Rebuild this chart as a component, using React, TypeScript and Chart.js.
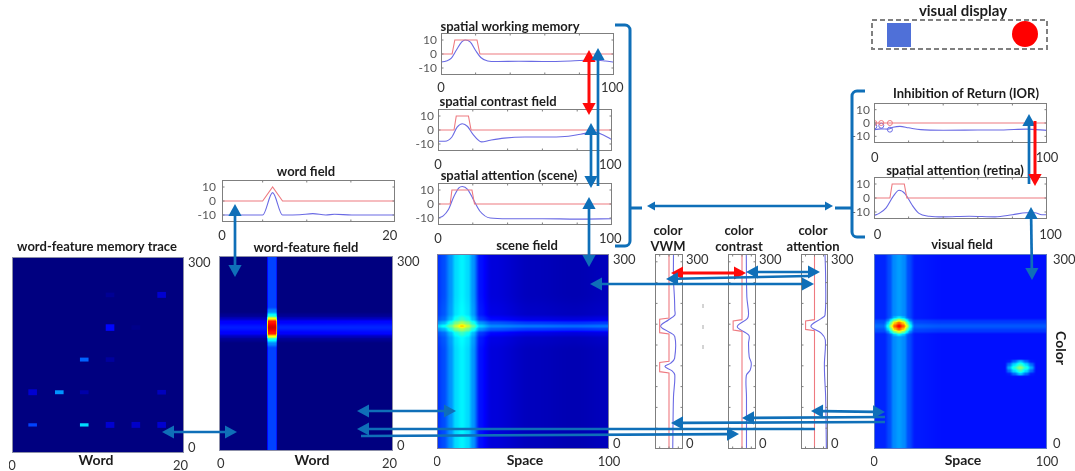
import React, { useEffect, useRef } from "react";
import { Chart, registerables } from "chart.js";

Chart.register(...registerables);

const FONT = "Lato, 'Open Sans', sans-serif";
const BLUE = "#0f6fb8";
const RED = "#ff0a0a";
const LINE_RED = "#ee7a80";
const LINE_BLUE = "#6a6ae4";
const FRAME = "#7f7f7f";

/* ---------- line panels: values ---------- */
const swmRedX = [0, 6.4, 8, 20.8, 22.5, 100];
const swmRedY = [0, 0, 10, 10, 0, 0];
const swmBlueX = [0, 3, 6, 9, 12, 14, 17, 20, 23, 27, 32, 45, 60, 75, 88, 95, 100];
const swmBlueY = [-5.8, -5, -3, 3, 8.6, 10, 8.5, 2.5, -2.5, -5, -5.4, -5.2, -5.4, -5, -4.3, -5, -5.8];

const contrastRedX = [0, 9.2, 10.5, 17.5, 19, 100];
const contrastRedY = [0, 0, 10, 10, 0, 0];
const contrastBlueX = [0, 4, 8, 11, 14, 17, 20, 25, 30, 38, 50, 65, 75, 82, 90, 95, 100];
const contrastBlueY = [-8, -8, -5, 2, 4.5, 2.5, -3, -8.5, -7.3, -5.8, -5, -5, -4.5, -3, -1.5, -3.5, -7];

const attnRedX = [0, 7, 8, 19.5, 21, 100];
const attnRedY = [0, 0, 10, 10, 0, 0];
const attnBlueX = [0, 3, 6, 9, 12, 14, 17, 20, 24, 30, 40, 60, 80, 100];
const attnBlueY = [-10, -8.5, -4, 5, 11.5, 12.5, 10.5, 4, -5, -10, -10.5, -10.5, -10.8, -10.5];

const wordRedX = [0, 4.7, 5.85, 7, 20];
const wordRedY = [0, 0, 10, 0, 0];
const wordBlueX = [0, 4.7, 5.85, 7, 9, 10.5, 12, 13, 15, 17, 20];
const wordBlueY = [-10, -10, 6, -10, -9.8, -9, -10, -9.5, -10, -10, -10];

const iorRedX = [0, 100];
const iorRedY = [0, 0];
const iorBlueX = [0, 4, 8, 11, 15, 20, 27, 40, 60, 75, 88, 100];
const iorBlueY = [-5, -4.4, -4.6, -3.2, -2.5, -3.6, -5, -5.4, -5.3, -5.2, -4.6, -5.5];
const iorMarkX = [0.2, 4.2, 9.2];
const iorMarkRedY = [0, 0, 0];
const iorMarkBlueY = [-2.5, -2, -5];

const retinaRedX = [0, 9.2, 10.5, 17.5, 19, 100];
const retinaRedY = [0, 0, 10, 10, 0, 0];
const retinaBlueX = [0, 3, 7, 11, 14.5, 18, 22, 26, 32, 40, 55, 70, 80, 88, 93, 97, 100];
const retinaBlueY = [-12.5, -11, -7, 1, 5.5, 3, -5, -11, -13, -13.5, -13, -13.5, -12, -10.5, -10.5, -12, -12];

/* ---------- colour panels: activation (x) along the colour axis (y) ---------- */
const vwmRedV = [0, 0, 10, 10, 0, 0, 10, 10, 0, 0];
const vwmRedC = [0, 117, 119, 133, 135, 177, 179, 199.5, 201.5, 300];
const vwmBlueV = [-4, -4.8, -6.2, -3, 4.4, -1.8, -6, -6.2, 0.7, 9, 0.7, -6.2, -6.2, -5.8, -4.8, -4.8];
const vwmBlueC = [0, 80, 114, 120.5, 127, 132, 139.5, 173, 180.5, 189, 198.5, 206, 214, 234, 260, 300];

const colContrastRedV = [0, 0, 9.5, 9.5, 0, 0];
const colContrastRedC = [0, 181, 183, 197, 199, 300];
const colContrastBlueV = [-4.8, -4.8, -4.6, -8.8, -9.9, -7.7, -7, -7.3, 5.1, -5.9, -7, -5.2, -4.6];
const colContrastBlueC = [0, 80, 113, 121.5, 132, 142, 162.5, 175, 188, 201, 209, 234, 300];

const colAttnRedV = [0, 0, 9.9, 9.9, 0, 0];
const colAttnRedC = [0, 182, 184, 197, 199, 300];
const colAttnBlueV = [-13.2, -12.4, -11.3, -11, -12, -7.7, 4, -7.7, -11.7, -12.4, -11.7];
const colAttnBlueC = [0, 80, 111, 132, 168, 178, 189, 201, 206, 260, 300];

/* ---------- heat maps: tables of jet levels, rows run from colour 0 upward ---------- */
const memoryCols = [2.4, 5.5, 8.4, 11.4, 14.4, 17.4];
const memoryRowsAt = [43, 93, 143, 192, 242];
const memoryRowHeights = [
  [5, 0, 5, 9, 9, 9],
  [9, 6, 6, 0, 0, 7],
  [0, 0, 6, 7, 0, 0],
  [0, 0, 0, 10, 7, 0],
  [0, 0, 0, 7, 0, 9],
];
const memoryLevels = [
  [0.19, 0, 0.34, 0.08, 0.07, 0.08],
  [0.08, 0.27, 0.04, 0, 0, 0.06],
  [0, 0, 0.22, 0.03, 0, 0],
  [0, 0, 0, 0.13, 0.01, 0],
  [0, 0, 0, 0.02, 0, 0.08],
];

const wordFieldCols = [0, 5.45, 5.65, 6.55, 6.75, 20];
const wordFieldRows = [0, 100, 158, 165, 172, 176, 181, 190, 199, 204, 208, 215, 222, 300];
const wordFieldLevels = [
  [0, 0, 0.19, 0.19, 0, 0],
  [0, 0, 0.19, 0.19, 0, 0],
  [0, 0, 0.19, 0.19, 0, 0],
  [0, 0, 0.26, 0.26, 0, 0],
  [0.02, 0.02, 0.4, 0.4, 0.02, 0.02],
  [0.06, 0.06, 0.62, 0.62, 0.06, 0.06],
  [0.12, 0.12, 0.85, 0.85, 0.12, 0.13],
  [0.15, 0.15, 0.92, 0.92, 0.16, 0.16],
  [0.12, 0.12, 0.85, 0.85, 0.12, 0.13],
  [0.06, 0.06, 0.62, 0.62, 0.06, 0.06],
  [0.02, 0.02, 0.4, 0.4, 0.02, 0.02],
  [0, 0, 0.26, 0.26, 0, 0],
  [0, 0, 0.19, 0.19, 0, 0],
  [0, 0, 0.19, 0.19, 0, 0],
];

const sceneCols = [0, 4, 8, 11, 14.5, 18, 21, 25, 32, 55, 80, 100];
const sceneRows = [0, 100, 150, 170, 178, 184, 189, 194, 200, 208, 240, 300];
const sceneLevels = [
  [0.17, 0.2, 0.27, 0.34, 0.365, 0.34, 0.27, 0.14, 0.09, 0.06, 0.05, 0.06],
  [0.17, 0.2, 0.27, 0.34, 0.365, 0.34, 0.27, 0.14, 0.09, 0.06, 0.05, 0.06],
  [0.17, 0.2, 0.27, 0.34, 0.365, 0.34, 0.27, 0.14, 0.09, 0.06, 0.05, 0.06],
  [0.18, 0.21, 0.28, 0.35, 0.375, 0.35, 0.28, 0.15, 0.1, 0.07, 0.06, 0.07],
  [0.2, 0.23, 0.31, 0.39, 0.43, 0.39, 0.31, 0.18, 0.13, 0.1, 0.09, 0.1],
  [0.26, 0.3, 0.4, 0.49, 0.54, 0.49, 0.4, 0.27, 0.21, 0.18, 0.17, 0.18],
  [0.32, 0.38, 0.47, 0.57, 0.67, 0.57, 0.47, 0.33, 0.26, 0.24, 0.23, 0.24],
  [0.26, 0.3, 0.4, 0.49, 0.54, 0.49, 0.4, 0.27, 0.21, 0.18, 0.17, 0.18],
  [0.2, 0.23, 0.31, 0.39, 0.43, 0.39, 0.31, 0.18, 0.13, 0.1, 0.09, 0.1],
  [0.18, 0.21, 0.28, 0.35, 0.375, 0.35, 0.28, 0.15, 0.1, 0.07, 0.06, 0.07],
  [0.17, 0.2, 0.27, 0.34, 0.365, 0.34, 0.27, 0.14, 0.09, 0.06, 0.05, 0.06],
  [0.17, 0.2, 0.27, 0.34, 0.365, 0.34, 0.27, 0.14, 0.09, 0.06, 0.05, 0.06],
];

const visualCols = [0, 6, 9, 11.5, 14.5, 17.5, 20, 24, 40, 100];
const visualRows = [0, 100, 176, 182, 189, 196, 202, 300];
const visualLevels = [
  [0.16, 0.16, 0.2, 0.26, 0.28, 0.26, 0.2, 0.15, 0.14, 0.14],
  [0.16, 0.16, 0.2, 0.26, 0.28, 0.26, 0.2, 0.15, 0.14, 0.14],
  [0.16, 0.16, 0.2, 0.26, 0.28, 0.26, 0.2, 0.15, 0.14, 0.14],
  [0.2, 0.2, 0.24, 0.3, 0.32, 0.3, 0.24, 0.19, 0.18, 0.18],
  [0.23, 0.23, 0.27, 0.33, 0.35, 0.33, 0.27, 0.22, 0.21, 0.21],
  [0.2, 0.2, 0.24, 0.3, 0.32, 0.3, 0.24, 0.19, 0.18, 0.18],
  [0.16, 0.16, 0.2, 0.26, 0.28, 0.26, 0.2, 0.15, 0.14, 0.14],
  [0.16, 0.16, 0.2, 0.26, 0.28, 0.26, 0.2, 0.15, 0.14, 0.14],
];

const redBlobCols = [6, 8, 10, 12, 14.5, 17, 19, 21, 23];
const redBlobRows = [172, 175, 180, 184, 189, 194, 198, 203, 206];
const redBlobLevels = [
  [0, 0, 0, 0, 0, 0, 0, 0, 0],
  [0, 0, 0.01, 0.04, 0.07, 0.04, 0.01, 0, 0],
  [0, 0.03, 0.12, 0.2, 0.27, 0.2, 0.12, 0.03, 0],
  [0.01, 0.09, 0.22, 0.37, 0.45, 0.37, 0.22, 0.09, 0.01],
  [0.02, 0.13, 0.3, 0.45, 0.53, 0.45, 0.3, 0.13, 0.02],
  [0.01, 0.09, 0.22, 0.37, 0.45, 0.37, 0.22, 0.09, 0.01],
  [0, 0.03, 0.12, 0.2, 0.27, 0.2, 0.12, 0.03, 0],
  [0, 0, 0.01, 0.04, 0.07, 0.04, 0.01, 0, 0],
  [0, 0, 0, 0, 0, 0, 0, 0, 0],
];

const blueBlobCols = [75.5, 78, 81, 84.6, 88, 91, 94];
const blueBlobRows = [111, 115, 120, 125, 130, 135, 139];
const blueBlobLevels = [
  [0, 0, 0, 0, 0, 0, 0],
  [0, 0.01, 0.08, 0.17, 0.08, 0.01, 0],
  [0, 0.09, 0.2, 0.29, 0.2, 0.09, 0],
  [0, 0.15, 0.27, 0.38, 0.27, 0.15, 0],
  [0, 0.09, 0.2, 0.29, 0.2, 0.09, 0],
  [0, 0.01, 0.08, 0.17, 0.08, 0.01, 0],
  [0, 0, 0, 0, 0, 0, 0],
];

/* ---------- helpers ---------- */
const zip = (xs: number[], ys: number[]) => xs.map((x, i) => ({ x, y: ys[i] }));

const redLine = (xs: number[], ys: number[]) => ({
  data: zip(xs, ys), showLine: true, borderColor: LINE_RED, borderWidth: 1.1, pointRadius: 0, tension: 0,
});
const blueLine = (xs: number[], ys: number[]) => ({
  data: zip(xs, ys), showLine: true, borderColor: LINE_BLUE, borderWidth: 1.1, pointRadius: 0,
  cubicInterpolationMode: "monotone",
});

const jet = (v: number): [number, number, number] => {
  const c = (t: number) => Math.round(255 * Math.min(1, Math.max(0, t)));
  return [c(1.5 - Math.abs(4 * v - 3)), c(1.5 - Math.abs(4 * v - 2)), c(1.5 - Math.abs(4 * v - 1))];
};

type Layer = { cols: number[]; rows: number[]; levels: number[][]; clamp?: boolean };

const sampleLayer = (l: Layer, x: number, y: number) => {
  const locate = (arr: number[], v: number): [number, number] | null => {
    if (v <= arr[0]) return l.clamp ? [0, 0] : null;
    if (v >= arr[arr.length - 1]) return l.clamp ? [arr.length - 2, 1] : null;
    let i = 0;
    while (arr[i + 1] < v) i++;
    const t = (v - arr[i]) / (arr[i + 1] - arr[i]);
    return [i, t * t * (3 - 2 * t)];
  };
  const a = locate(l.cols, x);
  const b = locate(l.rows, y);
  if (!a || !b) return 0;
  const r0 = l.levels[b[0]];
  const r1 = l.levels[b[0] + 1];
  const top = r0[a[0]] * (1 - a[1]) + r0[a[0] + 1] * a[1];
  const bot = r1[a[0]] * (1 - a[1]) + r1[a[0] + 1] * a[1];
  return top * (1 - b[1]) + bot * b[1];
};

const heatPlugin = (layers: Layer[]) => ({
  id: "heatTable",
  beforeDatasetsDraw(chart: any) {
    const { ctx, chartArea: a, scales } = chart;
    const w = Math.round(a.right - a.left);
    const h = Math.round(a.bottom - a.top);
    const off = document.createElement("canvas");
    off.width = w;
    off.height = h;
    const oc = off.getContext("2d")!;
    const img = oc.createImageData(w, h);
    for (let j = 0; j < h; j++) {
      const yv = scales.y.getValueForPixel(a.top + j + 0.5);
      for (let i = 0; i < w; i++) {
        const xv = scales.x.getValueForPixel(a.left + i + 0.5);
        let v = 0;
        for (const l of layers) v += sampleLayer(l, xv, yv);
        const [r, g, b] = jet(v);
        const k = (j * w + i) * 4;
        img.data[k] = r;
        img.data[k + 1] = g;
        img.data[k + 2] = b;
        img.data[k + 3] = 255;
      }
    }
    oc.putImageData(img, 0, 0);
    ctx.drawImage(off, a.left, a.top);
  },
});

const memoryPlugin = {
  id: "memoryCells",
  beforeDatasetsDraw(chart: any) {
    const { ctx, chartArea: a, scales } = chart;
    const [r, g, b] = jet(0);
    ctx.save();
    ctx.beginPath();
    ctx.rect(a.left, a.top, a.right - a.left, a.bottom - a.top);
    ctx.clip();
    ctx.fillStyle = `rgb(${r},${g},${b})`;
    ctx.fillRect(a.left, a.top, a.right - a.left, a.bottom - a.top);
    ctx.filter = "blur(0.6px)";
    memoryRowsAt.forEach((rowAt, ri) => {
      memoryCols.forEach((col, ci) => {
        const lv = memoryLevels[ri][ci];
        if (!lv) return;
        const hh = memoryRowHeights[ri][ci] / 2;
        const [cr, cg, cb] = jet(lv);
        ctx.fillStyle = `rgb(${cr},${cg},${cb})`;
        const x0 = scales.x.getPixelForValue(col - 0.5);
        const x1 = scales.x.getPixelForValue(col + 0.5);
        const y0 = scales.y.getPixelForValue(rowAt + hh);
        const y1 = scales.y.getPixelForValue(rowAt - hh);
        ctx.fillRect(x0, y0, x1 - x0, y1 - y0);
      });
    });
    ctx.restore();
  },
};

const framePlugin = (innerX: number[], innerY: number[], color: string) => ({
  id: "frameTicks",
  afterDatasetsDraw(chart: any) {
    const { ctx, chartArea: a, scales } = chart;
    ctx.save();
    ctx.strokeStyle = color;
    ctx.lineWidth = 1;
    const l = Math.round(a.left) + 0.5;
    const r = Math.round(a.right) - 0.5;
    const t = Math.round(a.top) + 0.5;
    const b = Math.round(a.bottom) - 0.5;
    ctx.strokeRect(l, t, r - l, b - t);
    ctx.beginPath();
    innerX.forEach((v) => {
      const p = scales.x.getPixelForValue(v);
      ctx.moveTo(p, t); ctx.lineTo(p, t + 2);
      ctx.moveTo(p, b); ctx.lineTo(p, b - 2);
    });
    innerY.forEach((v) => {
      const p = scales.y.getPixelForValue(v);
      ctx.moveTo(l, p); ctx.lineTo(l + 2, p);
      ctx.moveTo(r, p); ctx.lineTo(r - 2, p);
    });
    ctx.stroke();
    ctx.restore();
  },
});

type AxisLabel = [number, string];

type PanelSpec = {
  left: number; top: number; w: number; h: number;
  padL: number; padR: number; padT: number; padB: number;
  xMin: number; xMax: number; yMin: number; yMax: number; reverseX?: boolean;
  xLabels: AxisLabel[]; yLabels: AxisLabel[];
  yRight?: boolean; xPad?: number; yPad?: number; yColor?: string; ySize?: number;
  innerX?: number[]; innerY?: number[]; frame?: string;
  datasets?: any[]; extra?: any[];
};

const buildConfig = (p: PanelSpec) => {
  const zeroPad = (s: any) => { s.paddingLeft = s.paddingRight = s.paddingTop = s.paddingBottom = 0; };
  return {
    type: "scatter",
    data: { datasets: p.datasets ?? [] },
    plugins: [...(p.extra ?? []), framePlugin(p.innerX ?? [], p.innerY ?? [], p.frame ?? FRAME)],
    options: {
      animation: false, responsive: false, events: [],
      layout: {
        padding: {
          top: p.padT, bottom: 0,
          left: p.yRight ? p.padL : 0,
          right: p.yRight ? 0 : p.padR,
        },
      },
      plugins: { legend: { display: false }, title: { display: false }, tooltip: { enabled: false } },
      scales: {
        x: {
          type: "linear", min: p.xMin, max: p.xMax, reverse: !!p.reverseX, position: "bottom",
          grid: { display: false, drawTicks: false },
          border: { display: false },
          afterBuildTicks: (s: any) => { s.ticks = p.xLabels.map(([value]) => ({ value })); },
          afterFit: (s: any) => { s.height = p.padB; zeroPad(s); },
          ticks: {
            autoSkip: false, maxRotation: 0, minRotation: 0, padding: p.xPad ?? 5,
            color: "#333333", font: { family: FONT, size: 13 },
            callback: (_v: any, i: number) => p.xLabels[i]?.[1] ?? "",
          },
        },
        y: {
          type: "linear", min: p.yMin, max: p.yMax, position: p.yRight ? "right" : "left",
          grid: { display: false, drawTicks: false },
          border: { display: false },
          afterBuildTicks: (s: any) => { s.ticks = p.yLabels.map(([value]) => ({ value })); },
          afterFit: (s: any) => { s.width = p.yRight ? p.padR : p.padL; zeroPad(s); },
          ticks: {
            autoSkip: false, padding: p.yPad ?? 4,
            color: p.yColor ?? "#333333", font: { family: FONT, size: p.ySize ?? 13 },
            callback: (_v: any, i: number) => p.yLabels[i]?.[1] ?? "",
          },
        },
      },
    },
  };
};

function Panel({ spec }: { spec: PanelSpec }) {
  const ref = useRef<HTMLCanvasElement>(null);
  useEffect(() => {
    const chart = new Chart(ref.current as any, buildConfig(spec) as any);
    return () => chart.destroy();
  }, [spec]);
  return (
    <canvas
      ref={ref}
      width={spec.padL + spec.w + spec.padR}
      height={spec.padT + spec.h + spec.padB}
      style={{
        position: "absolute", display: "block",
        left: spec.left - spec.padL, top: spec.top - spec.padT,
        filter: "blur(0.6px)",
      }}
    />
  );
}

/* ---------- panels ---------- */
const heatLabelsY: AxisLabel[] = [[8, "0"], [291, "300"]];
const linePad = { padL: 30, padR: 16, padT: 3, padB: 26 };
const heatPad = { padL: 3, padR: 34, padT: 3, padB: 22 };
const colorPad = { padL: 3, padR: 32, padT: 3, padB: 3 };
const lineY: AxisLabel[] = [[-10, "-10"], [0, "0"], [10, "10"]];
const gridTicks = [20, 40, 60, 80];
const lineCommon = {
  yMin: -15, yMax: 15, yLabels: lineY, innerY: [-10, 0, 10], innerX: gridTicks,
  yColor: "#595959", ySize: 12, xMin: 0, xMax: 100,
};
const colorInnerY = [32, 64, 96, 128, 160, 192, 224, 256, 288];
const colorCommon = {
  xMin: -15, xMax: 15, yMin: 0, yMax: 300, reverseX: true, yRight: true,
  xLabels: [] as AxisLabel[], yLabels: heatLabelsY, innerX: [-10, 0, 10], innerY: colorInnerY,
  yPad: 3, ...colorPad, w: 28, h: 195, top: 254,
};

const PANELS: PanelSpec[] = [
  {
    ...heatPad, left: 12, top: 257, w: 172, h: 196, xMin: 0, xMax: 20, yMin: 0, yMax: 300,
    yRight: true, xLabels: [[0, "0"], [19.6, "20"]], yLabels: heatLabelsY, yPad: 4,
    extra: [memoryPlugin], frame: "#8c8fa8",
  },
  {
    ...heatPad, left: 219, top: 256, w: 174, h: 195, xMin: 0, xMax: 20, yMin: 0, yMax: 300,
    yRight: true, xLabels: [[0.2, "0"], [19.6, "20"]], yLabels: heatLabelsY, yPad: 4,
    extra: [heatPlugin([{ cols: wordFieldCols, rows: wordFieldRows, levels: wordFieldLevels, clamp: true }])],
    frame: "#8c8fa8",
  },
  {
    ...heatPad, left: 437, top: 254, w: 172, h: 195, xMin: 0, xMax: 100, yMin: 0, yMax: 300,
    yRight: true, xLabels: [[0, "0"], [100, "100"]], yLabels: heatLabelsY, yPad: 4,
    extra: [heatPlugin([{ cols: sceneCols, rows: sceneRows, levels: sceneLevels, clamp: true }])],
    frame: "#7d80a0",
  },
  {
    ...heatPad, left: 874, top: 254, w: 173, h: 195, xMin: 0, xMax: 100, yMin: 0, yMax: 300,
    yRight: true, xLabels: [[0, "0"], [100, "100"]], yLabels: heatLabelsY, yPad: 6,
    extra: [heatPlugin([
      { cols: visualCols, rows: visualRows, levels: visualLevels, clamp: true },
      { cols: redBlobCols, rows: redBlobRows, levels: redBlobLevels },
      { cols: blueBlobCols, rows: blueBlobRows, levels: blueBlobLevels },
    ])],
    frame: "#5a78c8",
  },
  {
    ...lineCommon, ...linePad, left: 441, top: 33, w: 173, h: 42, xPad: 5,
    xLabels: [[0, "0"], [99, "100"]],
    datasets: [redLine(swmRedX, swmRedY), blueLine(swmBlueX, swmBlueY)],
  },
  {
    ...lineCommon, ...linePad, left: 438, top: 109, w: 174, h: 42, xPad: 6,
    xLabels: [[0, "0"], [99, "100"]],
    datasets: [redLine(contrastRedX, contrastRedY), blueLine(contrastBlueX, contrastBlueY)],
  },
  {
    ...lineCommon, ...linePad, left: 438, top: 183, w: 174, h: 42, xPad: 6,
    xLabels: [[0, "0"], [99, "100"]],
    datasets: [redLine(attnRedX, attnRedY), blueLine(attnBlueX, attnBlueY)],
  },
  {
    ...lineCommon, ...linePad, left: 222, top: 180, w: 173, h: 42, xMax: 20, xPad: 6, yPad: 6,
    xLabels: [[0, "0"], [19.4, "20"]], innerX: [4.7, 9.8, 14.9],
    datasets: [redLine(wordRedX, wordRedY), blueLine(wordBlueX, wordBlueY)],
  },
  {
    ...lineCommon, ...linePad, left: 874, top: 101, w: 173, h: 42, xPad: 7,
    xLabels: [[0.4, "0"], [100, "100"]],
    datasets: [
      redLine(iorRedX, iorRedY), blueLine(iorBlueX, iorBlueY),
      { data: zip(iorMarkX, iorMarkRedY), showLine: false, pointRadius: 2.5, pointBorderColor: LINE_RED, pointBackgroundColor: "transparent", pointBorderWidth: 1 },
      { data: zip(iorMarkX, iorMarkBlueY), showLine: false, pointRadius: 2.5, pointBorderColor: LINE_BLUE, pointBackgroundColor: "transparent", pointBorderWidth: 1 },
    ],
  },
  {
    ...lineCommon, ...linePad, left: 874, top: 177, w: 173, h: 42, xPad: 8,
    xLabels: [[2, "0"], [102, "100"]],
    datasets: [redLine(retinaRedX, retinaRedY), blueLine(retinaBlueX, retinaBlueY)],
  },
  {
    ...colorCommon, left: 655,
    datasets: [redLine(vwmRedV, vwmRedC), { ...blueLine(vwmBlueV, vwmBlueC), cubicInterpolationMode: "default", tension: 0.35 }],
  },
  {
    ...colorCommon, left: 728,
    datasets: [redLine(colContrastRedV, colContrastRedC), { ...blueLine(colContrastBlueV, colContrastBlueC), cubicInterpolationMode: "default", tension: 0.35 }],
  },
  {
    ...colorCommon, left: 801, w: 27,
    datasets: [redLine(colAttnRedV, colAttnRedC), { ...blueLine(colAttnBlueV, colAttnBlueC), cubicInterpolationMode: "default", tension: 0.35 }],
  },
];

/* ---------- annotation layer ---------- */
type Arrow = { from: [number, number]; to: [number, number]; heads: "start" | "end" | "both" | "none"; color?: string; head?: number };

const ARROWS: Arrow[] = [
  { from: [589, 50], to: [589, 115], heads: "both", color: RED },
  { from: [598, 186], to: [598, 48], heads: "end" },
  { from: [591, 123], to: [591, 188], heads: "both" },
  { from: [589, 197], to: [589, 267], heads: "both" },
  { from: [235, 204], to: [235, 277], heads: "both" },
  { from: [162, 432], to: [237, 432], heads: "both" },
  { from: [357, 411], to: [456, 411], heads: "both" },
  { from: [815, 429], to: [357, 429], heads: "end" },
  { from: [361, 436], to: [739, 434], heads: "end" },
  { from: [885, 422], to: [671, 423], heads: "end" },
  { from: [885, 417], to: [742, 418], heads: "end" },
  { from: [811, 411], to: [885, 412], heads: "both" },
  { from: [671, 273], to: [746, 273], heads: "both", color: RED },
  { from: [746, 272], to: [820, 272], heads: "both" },
  { from: [808, 276], to: [666, 279], heads: "end" },
  { from: [590, 284], to: [814, 284], heads: "both" },
  { from: [1029, 184], to: [1029, 114], heads: "end" },
  { from: [1035, 121], to: [1035, 186], heads: "end", color: RED },
  { from: [1031, 207], to: [1032, 280], heads: "both" },
  { from: [647, 206], to: [833, 206], heads: "both", head: 8 },
];

const LEFT_BRACKET = { tipX: 615, spineX: 630, top: 25, bottom: 246, midY: 208, stubX: 642 };
const RIGHT_BRACKET = { tipX: 865, spineX: 852, top: 91, bottom: 237, midY: 208, stubX: 835 };

const DASHES: [number, number][] = [[703, 306], [703, 327], [703, 347]];

type Label = { text: string; x: number; y: number; size?: number; rotate?: boolean };
const LABELS: Label[] = [
  { text: "visual display", x: 963, y: 11, size: 15 },
  { text: "spatial working memory", x: 510, y: 27 },
  { text: "spatial contrast field", x: 498, y: 102 },
  { text: "spatial attention (scene)", x: 509, y: 176 },
  { text: "scene field", x: 527, y: 246 },
  { text: "word field", x: 306, y: 172 },
  { text: "word-feature field", x: 306, y: 248 },
  { text: "word-feature memory trace", x: 97, y: 247 },
  { text: "Inhibition of Return (IOR)", x: 966, y: 94 },
  { text: "spatial attention (retina)", x: 955, y: 171 },
  { text: "visual field", x: 962, y: 245 },
  { text: "color", x: 668, y: 231 },
  { text: "VWM", x: 668, y: 247 },
  { text: "color", x: 739, y: 231 },
  { text: "contrast", x: 739, y: 247 },
  { text: "color", x: 813, y: 231 },
  { text: "attention", x: 813, y: 247 },
  { text: "Word", x: 96, y: 460, size: 14 },
  { text: "Word", x: 312, y: 460, size: 14 },
  { text: "Space", x: 525, y: 460, size: 14 },
  { text: "Space", x: 963, y: 460, size: 14 },
  { text: "Color", x: 1061, y: 348, size: 14, rotate: true },
];

const overlayPlugin = {
  id: "overlayMarks",
  afterDraw(chart: any) {
    const { ctx, scales } = chart;
    const X = (v: number) => scales.x.getPixelForValue(v);
    const Y = (v: number) => scales.y.getPixelForValue(v);

    const head = (tx: number, ty: number, ang: number, size: number, color: string) => {
      ctx.save();
      ctx.translate(tx, ty);
      ctx.rotate(ang);
      ctx.fillStyle = color;
      ctx.beginPath();
      ctx.moveTo(0, 0);
      ctx.lineTo(-size, -size * 0.55);
      ctx.lineTo(-size, size * 0.55);
      ctx.closePath();
      ctx.fill();
      ctx.restore();
    };

    ARROWS.forEach((a) => {
      const color = a.color ?? BLUE;
      const size = a.head ?? 12;
      const x1 = X(a.from[0]), y1 = Y(a.from[1]), x2 = X(a.to[0]), y2 = Y(a.to[1]);
      const ang = Math.atan2(y2 - y1, x2 - x1);
      const back = size * 0.9;
      const hasStart = a.heads === "start" || a.heads === "both";
      const hasEnd = a.heads === "end" || a.heads === "both";
      ctx.save();
      ctx.strokeStyle = color;
      ctx.lineWidth = a.color ? 3 : 2.7;
      ctx.beginPath();
      ctx.moveTo(x1 + (hasStart ? Math.cos(ang) * back : 0), y1 + (hasStart ? Math.sin(ang) * back : 0));
      ctx.lineTo(x2 - (hasEnd ? Math.cos(ang) * back : 0), y2 - (hasEnd ? Math.sin(ang) * back : 0));
      ctx.stroke();
      ctx.restore();
      if (hasEnd) head(x2, y2, ang, size, color);
      if (hasStart) head(x1, y1, ang + Math.PI, size, color);
    });

    [LEFT_BRACKET, RIGHT_BRACKET].forEach((b) => {
      ctx.save();
      ctx.strokeStyle = BLUE;
      ctx.lineWidth = 3;
      ctx.lineJoin = "round";
      ctx.beginPath();
      ctx.moveTo(X(b.tipX), Y(b.top));
      ctx.arcTo(X(b.spineX), Y(b.top), X(b.spineX), Y(b.top + 8), 5);
      ctx.lineTo(X(b.spineX), Y(b.bottom - 5));
      ctx.arcTo(X(b.spineX), Y(b.bottom), X(b.tipX), Y(b.bottom), 5);
      ctx.lineTo(X(b.tipX), Y(b.bottom));
      ctx.moveTo(X(b.spineX), Y(b.midY));
      ctx.lineTo(X(b.stubX), Y(b.midY));
      ctx.stroke();
      ctx.restore();
    });

    ctx.save();
    ctx.strokeStyle = "#a8a8a8";
    ctx.lineWidth = 1;
    DASHES.forEach(([x, y]) => {
      ctx.beginPath();
      ctx.moveTo(X(x), Y(y - 2));
      ctx.lineTo(X(x), Y(y + 2));
      ctx.stroke();
    });
    ctx.restore();

    // visual display box
    ctx.save();
    ctx.strokeStyle = "#808080";
    ctx.lineWidth = 2;
    ctx.setLineDash([5, 3]);
    ctx.strokeRect(X(872), Y(20), X(1047) - X(872), Y(49) - Y(20));
    ctx.setLineDash([]);
    ctx.fillStyle = "#4f70d8";
    ctx.fillRect(X(887), Y(23), X(911) - X(887), Y(47) - Y(23));
    ctx.fillStyle = "#ff0000";
    ctx.beginPath();
    ctx.arc(X(1025), Y(34), 13, 0, Math.PI * 2);
    ctx.fill();
    ctx.restore();

    LABELS.forEach((l) => {
      ctx.save();
      ctx.fillStyle = "#1c1c1c";
      ctx.font = `bold ${l.size ?? 13}px ${FONT}`;
      ctx.textAlign = "center";
      ctx.textBaseline = "middle";
      ctx.translate(X(l.x), Y(l.y));
      if (l.rotate) ctx.rotate(Math.PI / 2);
      ctx.fillText(l.text, 0, 0);
      ctx.restore();
    });
  },
};

function Overlay() {
  const ref = useRef<HTMLCanvasElement>(null);
  useEffect(() => {
    const chart = new Chart(ref.current as any, {
      type: "scatter",
      data: { datasets: [] },
      plugins: [overlayPlugin],
      options: {
        animation: false, responsive: false, events: [],
        layout: { padding: 0 },
        plugins: { legend: { display: false }, tooltip: { enabled: false } },
        scales: {
          x: { type: "linear", min: 0, max: 1075, display: false },
          y: { type: "linear", min: 0, max: 471, reverse: true, display: false },
        },
      },
    } as any);
    return () => chart.destroy();
  }, []);
  return (
    <canvas
      ref={ref}
      width={1075}
      height={471}
      style={{ position: "absolute", left: 0, top: 0, display: "block", filter: "blur(0.5px)", pointerEvents: "none" }}
    />
  );
}

export default function App() {
  return (
    <div style={{ position: "absolute", left: 0, top: 0, width: 1075, height: 471, background: "#ffffff", overflow: "hidden" }}>
      {PANELS.map((p, i) => (
        <Panel key={i} spec={p} />
      ))}
      <Overlay />
    </div>
  );
}
